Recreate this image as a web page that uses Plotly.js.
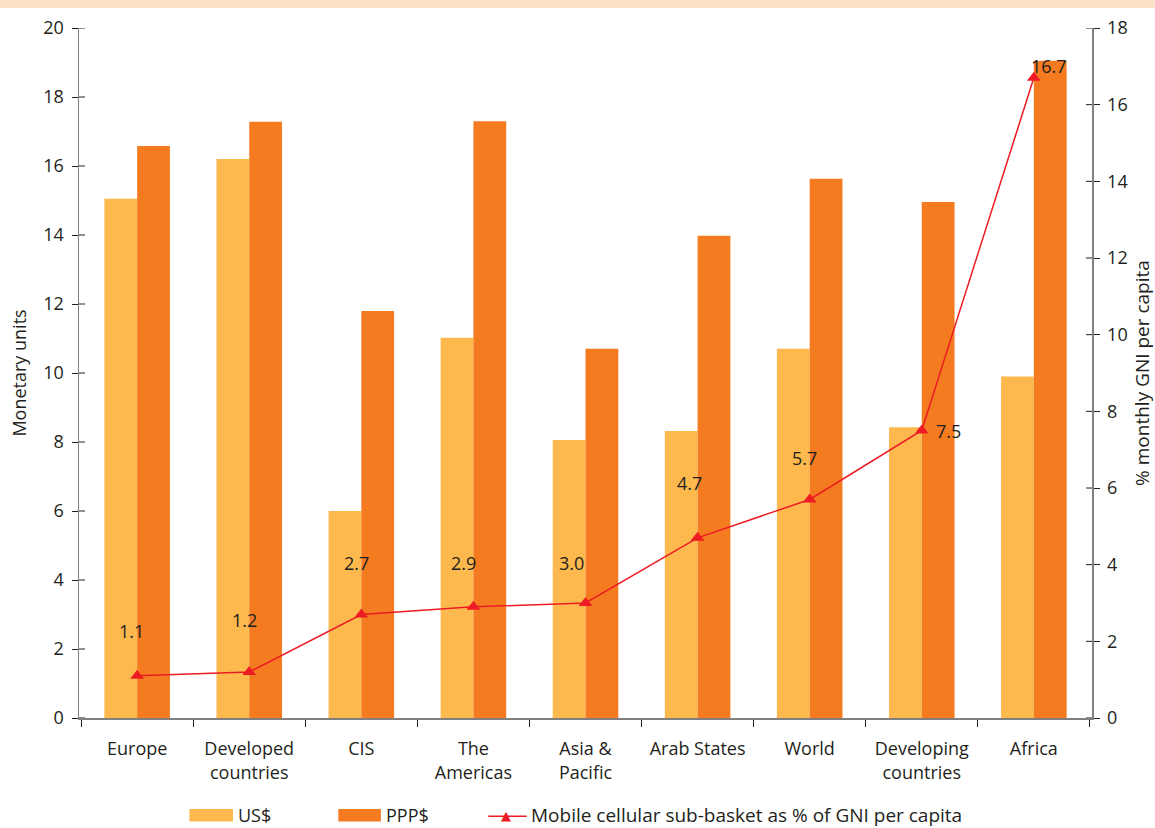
<!DOCTYPE html>
<html>
<head>
<meta charset="utf-8">
<script src="https://cdn.plot.ly/plotly-3.0.1.min.js"></script>
<style>
html,body{margin:0;padding:0;background:#fff;}
#band{position:absolute;left:0;top:0;width:1155px;height:8px;background:#FDE2C9;}
#chart{position:absolute;left:0;top:0;width:1155px;height:828px;}
</style>
</head>
<body>
<div id="chart"></div>
<div id="band"></div>
<script>
const categories = ["Europe", "Developed<br>countries", "CIS", "The<br>Americas", "Asia &amp;<br>Pacific", "Arab States", "World", "Developing<br>countries", "Africa"];
const usd = [15.05, 16.2, 6.0, 11.02, 8.06, 8.32, 10.7, 8.43, 9.9];
const ppp = [16.58, 17.28, 11.8, 17.3, 10.7, 13.98, 15.63, 14.96, 19.05];
const gniPct = [1.1, 1.2, 2.7, 2.9, 3.0, 4.7, 5.7, 7.5, 16.7];
const gniLabels = ["1.1", "1.2", "2.7", "2.9", "3.0", "4.7", "5.7", "7.5", "16.7"];
const leftTicks = [0, 2, 4, 6, 8, 10, 12, 14, 16, 18, 20];
const rightTicks = [0, 2, 4, 6, 8, 10, 12, 14, 16, 18];

const labelShiftX = [-6, -5, -5, -10, -14, -8, -5, 27, 15];
const labelShiftY = [45, 52, 52, 44, 40, 55, 42, 0, 12];

const FONT = "Open Sans, Noto Sans, sans-serif";
const TXT = "#231F20";
const AX = "#808080";
const FS = 18;

const traces = [
  {type:"bar", x:categories, y:usd, name:"US$", marker:{color:"#FDB94D"}, yaxis:"y", showlegend:false, hoverinfo:"skip"},
  {type:"bar", x:categories, y:ppp, name:"PPP$", marker:{color:"#F47B20"}, yaxis:"y", showlegend:false, hoverinfo:"skip"},
  {type:"scatter", mode:"lines+markers", x:categories, y:gniPct, yaxis:"y2", name:"Mobile", showlegend:false,
   line:{color:"#ED1C24", width:1.5}, marker:{symbol:"triangle-up", size:12, color:"#ED1C24"}, hoverinfo:"skip"}
];

const annotations = gniPct.map((v,i)=>({
  x: categories[i], y: v, xref:"x", yref:"y2", text: gniLabels[i], showarrow:false,
  xshift: labelShiftX[i], yshift: labelShiftY[i], font:{family:FONT, size:FS, color:TXT}
}));

// custom legend text
const LY = -0.141;
annotations.push(
  {xref:"paper", yref:"paper", x:0.155, y:LY, text:"US$", showarrow:false, xanchor:"left", yanchor:"middle", font:{family:FONT, size:FS, color:TXT}},
  {xref:"paper", yref:"paper", x:0.301, y:LY, text:"PPP$", showarrow:false, xanchor:"left", yanchor:"middle", font:{family:FONT, size:FS, color:TXT}},
  {xref:"paper", yref:"paper", x:0.444, y:LY, text:"Mobile cellular sub-basket as % of GNI per capita", showarrow:false, xanchor:"left", yanchor:"middle", font:{family:FONT, size:FS+1, color:TXT}},
  {xref:"paper", yref:"paper", x:0.4215, y:LY, text:"▲", showarrow:false, xanchor:"center", yanchor:"middle", font:{family:"DejaVu Sans", size:13, color:"#ED1C24"}}
);

const shapes = [
  {type:"rect", xref:"paper", yref:"paper", x0:0.109, x1:0.152, y0:-0.132, y1:-0.150, fillcolor:"#FDB94D", line:{width:0}},
  {type:"rect", xref:"paper", yref:"paper", x0:0.256, x1:0.298, y0:-0.132, y1:-0.150, fillcolor:"#F47B20", line:{width:0}},
  {type:"line", xref:"paper", yref:"paper", x0:0.404, x1:0.442, y0:-0.1425, y1:-0.1425, line:{color:"#ED1C24", width:1.5}}
];

// inner halves of the crossing tick marks
leftTicks.forEach(t=>shapes.push({type:"line", xref:"paper", yref:"y", xsizemode:"pixel", xanchor:0, x0:0, x1:6, y0:t, y1:t, line:{color:TXT, width:1}}));
rightTicks.forEach(t=>shapes.push({type:"line", xref:"paper", yref:"y2", xsizemode:"pixel", xanchor:1, x0:-6, x1:0, y0:t, y1:t, line:{color:TXT, width:1}}));

const layout = {
  width:1155, height:828,
  margin:{l:79, r:63, t:28, b:110},
  paper_bgcolor:"#fff", plot_bgcolor:"#fff",
  font:{family:FONT, size:FS, color:TXT},
  barmode:"group", bargap:0.415, bargroupgap:0,
  showlegend:false,
  xaxis:{type:"category", showgrid:false, showline:true, linecolor:AX, linewidth:1.5,
         ticks:"outside", tickson:"boundaries", ticklen:7, tickcolor:TXT, tickwidth:1,
         ticklabelstandoff:14,
         tickfont:{family:FONT, size:FS, color:TXT}, zeroline:false, fixedrange:true},
  yaxis:{range:[0,20], tickvals:leftTicks, showgrid:false, showline:true, linecolor:AX, linewidth:1.5,
         ticks:"outside", ticklen:6, tickcolor:TXT, tickwidth:1, zeroline:false, ticklabelstandoff:4,
         tickfont:{family:FONT, size:FS, color:TXT},
         title:{text:"Monetary units", font:{family:FONT, size:FS, color:TXT}, standoff:12}},
  yaxis2:{range:[0,18], tickvals:rightTicks, overlaying:"y", side:"right", showgrid:false, showline:true,
          linecolor:AX, linewidth:1.5, ticks:"outside", ticklen:6, tickcolor:TXT, tickwidth:1, zeroline:false,
          ticklabelstandoff:4,
          tickfont:{family:FONT, size:FS, color:TXT},
          title:{text:"% monthly GNI per capita", font:{family:FONT, size:FS+1, color:TXT}, standoff:18}},
  annotations: annotations,
  shapes: shapes
};

Plotly.newPlot("chart", traces, layout, {displayModeBar:false, staticPlot:true});
</script>
</body>
</html>
